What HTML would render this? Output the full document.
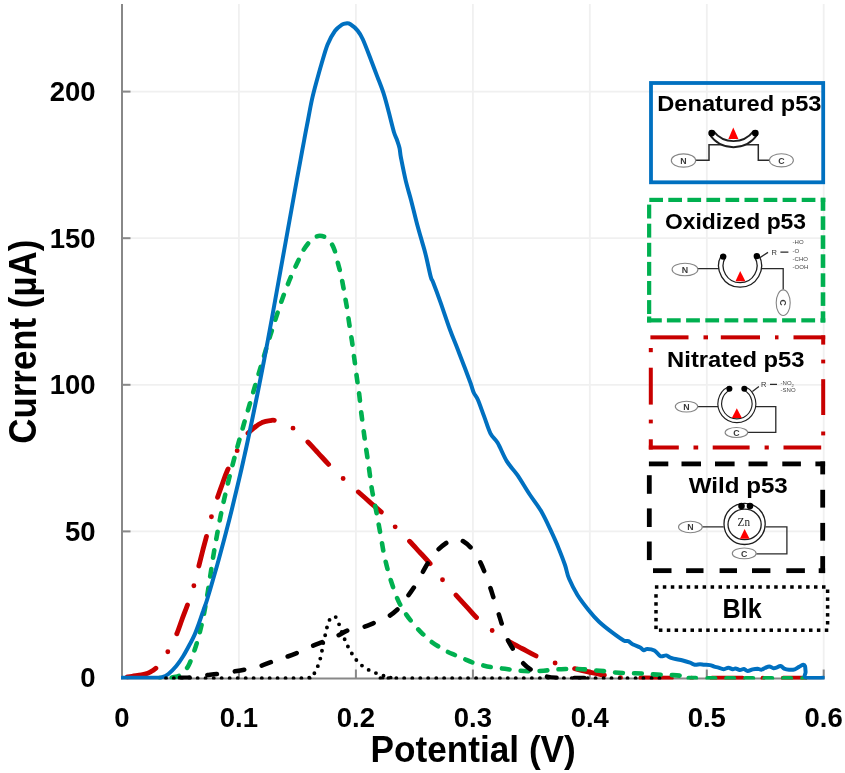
<!DOCTYPE html><html><head><meta charset="utf-8"><style>html,body{margin:0;padding:0;background:#fff;width:845px;height:773px;overflow:hidden}svg{position:absolute;left:0;top:0;display:block;will-change:transform;filter:blur(0.35px)}text{font-family:"Liberation Sans",sans-serif}</style></head><body>
<svg width="845" height="773" viewBox="0 0 845 773">
<line x1="238.9" y1="4" x2="238.9" y2="678" stroke="#f0f0f0" stroke-width="1.8"/>
<line x1="355.9" y1="4" x2="355.9" y2="678" stroke="#f0f0f0" stroke-width="1.8"/>
<line x1="472.9" y1="4" x2="472.9" y2="678" stroke="#f0f0f0" stroke-width="1.8"/>
<line x1="589.8" y1="4" x2="589.8" y2="678" stroke="#f0f0f0" stroke-width="1.8"/>
<line x1="706.8" y1="4" x2="706.8" y2="678" stroke="#f0f0f0" stroke-width="1.8"/>
<line x1="823.7" y1="4" x2="823.7" y2="678" stroke="#f0f0f0" stroke-width="1.8"/>
<line x1="122" y1="531.4" x2="824" y2="531.4" stroke="#f0f0f0" stroke-width="1.8"/>
<line x1="122" y1="384.8" x2="824" y2="384.8" stroke="#f0f0f0" stroke-width="1.8"/>
<line x1="122" y1="238.2" x2="824" y2="238.2" stroke="#f0f0f0" stroke-width="1.8"/>
<line x1="122" y1="91.6" x2="824" y2="91.6" stroke="#f0f0f0" stroke-width="1.8"/>
<line x1="122" y1="4" x2="122" y2="679.3" stroke="#888888" stroke-width="2"/>
<line x1="121" y1="678.5" x2="824.5" y2="678.5" stroke="#888888" stroke-width="2"/>
<line x1="122" y1="678.0" x2="130.5" y2="678.0" stroke="#888888" stroke-width="2"/>
<line x1="122" y1="531.4" x2="130.5" y2="531.4" stroke="#888888" stroke-width="2"/>
<line x1="122" y1="384.8" x2="130.5" y2="384.8" stroke="#888888" stroke-width="2"/>
<line x1="122" y1="238.2" x2="130.5" y2="238.2" stroke="#888888" stroke-width="2"/>
<line x1="122" y1="91.6" x2="130.5" y2="91.6" stroke="#888888" stroke-width="2"/>
<line x1="238.9" y1="669.5" x2="238.9" y2="678.5" stroke="#888888" stroke-width="2"/>
<line x1="355.9" y1="669.5" x2="355.9" y2="678.5" stroke="#888888" stroke-width="2"/>
<line x1="472.9" y1="669.5" x2="472.9" y2="678.5" stroke="#888888" stroke-width="2"/>
<line x1="589.8" y1="669.5" x2="589.8" y2="678.5" stroke="#888888" stroke-width="2"/>
<line x1="706.8" y1="669.5" x2="706.8" y2="678.5" stroke="#888888" stroke-width="2"/>
<line x1="823.7" y1="669.5" x2="823.7" y2="678.5" stroke="#888888" stroke-width="2"/>
<defs><clipPath id="pc"><rect x="121" y="0" width="703.6" height="679.5"/></clipPath></defs><g clip-path="url(#pc)">
<path id="s-red" d="M122.0,677.8 C123.7,677.5 128.8,676.8 132.0,676.3 C135.2,675.8 138.8,675.4 141.4,674.9 C144.0,674.4 145.9,673.9 147.8,673.2 C149.7,672.5 151.3,671.5 152.8,670.5 C154.3,669.5 155.2,669.0 156.7,667.3 C158.2,665.6 160.2,663.0 162.0,660.5 C163.8,658.0 165.8,655.0 167.5,652.2 C169.2,649.5 170.5,646.9 172.0,644.0 C173.5,641.1 174.6,639.2 176.3,635.1 C178.0,631.0 180.1,624.7 182.0,619.5 C183.9,614.3 186.0,609.2 187.9,603.7 C189.8,598.2 191.9,592.3 193.7,586.3 C195.4,580.3 196.9,573.5 198.4,567.7 C199.9,561.9 201.2,556.7 202.5,551.5 C203.8,546.3 205.1,541.9 206.5,536.3 C207.9,530.7 209.4,523.9 211.2,517.7 C212.9,511.5 215.2,504.7 217.0,499.1 C218.8,493.5 220.5,488.9 222.3,484.0 C224.1,479.1 225.2,475.4 227.6,470.0 C230.0,464.6 233.6,457.2 236.7,451.5 C239.8,445.8 243.2,439.5 246.2,435.5 C249.2,431.5 251.9,429.6 254.5,427.5 C257.1,425.4 259.4,423.8 262.0,422.6 C264.6,421.5 267.6,420.9 270.0,420.6 C272.4,420.3 272.4,419.6 276.2,420.8 C280.0,422.0 287.8,424.7 292.8,428.0 C297.8,431.3 302.1,436.3 306.3,440.4 C310.5,444.5 314.1,448.6 318.0,452.8 C321.9,457.0 325.9,461.6 330.0,465.8 C334.1,470.1 338.5,474.2 342.9,478.3 C347.3,482.4 352.2,486.5 356.6,490.4 C361.0,494.3 365.2,498.0 369.5,501.8 C373.8,505.6 378.2,509.0 382.4,513.1 C386.6,517.2 390.6,522.1 394.9,526.6 C399.2,531.1 404.1,535.7 408.3,540.0 C412.5,544.3 416.2,548.4 420.0,552.5 C423.8,556.6 427.4,560.4 431.1,564.9 C434.9,569.4 438.5,575.0 442.5,579.8 C446.5,584.6 450.9,589.5 454.9,593.9 C458.9,598.3 462.5,602.2 466.3,606.3 C470.1,610.4 473.4,614.7 477.7,618.7 C482.0,622.7 487.0,626.6 491.9,630.3 C496.8,633.9 502.3,637.6 507.3,640.6 C512.3,643.6 517.0,645.9 522.0,648.5 C527.0,651.1 531.7,654.0 537.2,656.4 C542.7,658.8 549.1,661.1 554.9,663.0 C560.7,664.9 566.3,666.5 572.0,668.0 C577.7,669.5 583.4,670.8 589.0,672.0 C594.6,673.2 599.9,674.4 605.9,675.4 C611.9,676.4 591.8,677.3 625.0,677.8 C658.2,678.3 775.0,678.1 805.0,678.2" fill="none" stroke="#C80000" stroke-width="4.9" stroke-linecap="round" stroke-linejoin="round" stroke-dasharray="30.5 20.3 0 20.31" stroke-dashoffset="65.77"/>
<path id="s-green" d="M160.0,677.8 C160.8,677.8 163.2,677.8 165.0,677.8 C166.8,677.8 168.8,677.8 170.6,677.6 C172.4,677.4 174.4,677.2 176.0,676.8 C177.6,676.4 179.0,676.0 180.4,675.0 C181.8,674.0 183.1,672.7 184.5,671.0 C185.9,669.3 187.1,668.5 188.8,665.0 C190.5,661.5 192.9,655.0 194.6,650.0 C196.3,645.0 197.8,640.0 199.1,635.0 C200.4,630.0 201.6,625.0 202.7,620.0 C203.8,615.0 204.7,610.0 205.6,605.0 C206.5,600.0 207.3,595.0 208.1,590.0 C208.9,585.0 209.6,580.0 210.4,575.0 C211.2,570.0 211.9,565.0 212.7,560.0 C213.5,555.0 214.3,550.0 215.2,545.0 C216.1,540.0 217.0,535.0 217.9,530.0 C218.8,525.0 219.8,520.0 220.8,515.0 C221.8,510.0 222.9,505.0 224.0,500.0 C225.1,495.0 226.3,490.0 227.5,485.0 C228.7,480.0 229.9,475.0 231.2,470.0 C232.5,465.0 233.8,460.0 235.2,455.0 C236.5,450.0 237.9,445.0 239.3,440.0 C240.7,435.0 242.2,430.0 243.6,425.0 C245.0,420.0 246.5,415.0 248.0,410.0 C249.5,405.0 250.9,400.0 252.4,395.0 C253.9,390.0 255.3,385.0 256.8,380.0 C258.3,375.0 259.8,370.0 261.3,365.0 C262.8,360.0 264.3,355.0 265.8,350.0 C267.3,345.0 268.8,340.0 270.4,335.0 C272.0,330.0 273.6,325.0 275.2,320.0 C276.8,315.0 278.5,310.0 280.2,305.0 C281.9,300.0 283.7,295.0 285.6,290.0 C287.5,285.0 289.5,280.0 291.7,275.0 C293.9,270.0 296.6,264.2 298.6,260.0 C300.6,255.8 301.7,253.0 303.5,250.0 C305.3,247.0 307.7,243.9 309.5,241.8 C311.3,239.7 312.8,238.5 314.5,237.5 C316.2,236.5 317.9,235.8 319.8,235.8 C321.7,235.8 323.8,236.3 325.6,237.4 C327.4,238.5 329.3,240.5 330.8,242.6 C332.3,244.7 333.4,247.0 334.5,250.0 C335.6,253.0 336.4,257.4 337.3,260.8 C338.2,264.2 339.1,267.5 339.9,270.5 C340.6,273.5 341.2,275.8 341.8,278.9 C342.4,282.0 343.1,285.9 343.7,289.2 C344.3,292.5 344.8,295.4 345.3,298.5 C345.9,301.6 346.4,304.3 347.0,308.0 C347.6,311.7 348.0,315.1 348.8,320.7 C349.6,326.3 351.0,334.7 352.0,341.4 C353.0,348.1 353.7,354.3 354.6,360.8 C355.5,367.3 356.4,374.5 357.2,380.2 C358.0,385.9 358.6,389.3 359.3,395.0 C360.0,400.7 360.6,407.7 361.5,414.6 C362.4,421.5 363.5,429.9 364.4,436.6 C365.3,443.3 366.1,448.7 367.0,454.7 C367.9,460.7 368.8,466.9 369.6,472.8 C370.4,478.7 370.9,483.6 372.0,490.0 C373.1,496.4 374.8,503.7 376.2,511.0 C377.6,518.3 379.0,526.2 380.4,533.8 C381.8,541.4 382.8,549.0 384.5,556.6 C386.2,564.2 388.2,572.1 390.5,579.4 C392.8,586.6 395.4,594.2 398.0,600.1 C400.6,606.0 403.2,610.0 406.3,614.6 C409.4,619.2 413.6,624.0 416.6,627.5 C419.6,631.0 421.8,633.0 424.1,635.3 C426.4,637.5 427.9,639.1 430.4,641.0 C432.9,642.9 436.3,645.1 439.0,646.8 C441.7,648.5 443.6,649.8 446.4,651.2 C449.2,652.7 453.1,654.2 456.0,655.5 C458.9,656.8 461.2,657.7 464.0,658.9 C466.8,660.1 470.1,661.6 473.0,662.6 C475.9,663.6 478.5,664.2 481.6,665.0 C484.7,665.8 488.6,666.7 491.7,667.2 C494.8,667.7 497.0,667.8 500.2,668.2 C503.4,668.6 507.6,669.2 510.6,669.6 C513.6,670.0 514.9,670.3 518.1,670.6 C521.3,670.9 526.4,671.1 529.7,671.2 C533.0,671.3 534.7,671.3 538.0,671.1 C541.3,670.9 546.4,670.5 549.6,670.2 C552.8,669.9 554.0,669.6 557.0,669.4 C560.0,669.2 564.6,669.1 567.8,669.0 C571.0,668.9 573.1,668.9 576.1,669.0 C579.1,669.1 583.0,669.2 586.0,669.4 C589.0,669.6 591.0,670.0 594.3,670.3 C597.6,670.6 602.8,671.0 605.9,671.3 C609.0,671.6 609.9,672.0 613.0,672.3 C616.1,672.6 621.4,672.9 624.6,673.0 C627.8,673.1 629.1,673.1 632.3,673.2 C635.5,673.3 640.7,673.4 643.8,673.6 C646.9,673.8 647.7,674.0 650.8,674.2 C653.9,674.4 659.1,674.7 662.3,674.8 C665.5,674.9 666.8,674.8 670.0,675.0 C673.2,675.2 678.4,675.4 681.5,675.8 C684.6,676.2 685.4,677.0 688.5,677.4 C691.6,677.8 680.6,678.1 700.0,678.2 C719.4,678.3 787.5,678.2 805.0,678.2" fill="none" stroke="#00B050" stroke-width="4.6" stroke-linecap="round" stroke-linejoin="round" stroke-dasharray="7.4 11.54" stroke-dashoffset="7.2"/>
<path id="s-blue" d="M122.0,677.8 C127.7,677.8 149.3,677.9 156.0,677.8 C162.7,677.7 159.9,677.8 162.0,677.2 C164.1,676.6 166.0,675.9 168.4,674.0 C170.8,672.1 173.8,669.0 176.3,666.0 C178.8,663.0 181.2,659.4 183.3,656.0 C185.4,652.6 187.2,649.2 189.0,645.8 C190.8,642.4 192.7,639.1 194.3,635.4 C196.0,631.7 197.4,627.6 198.9,623.5 C200.4,619.4 201.8,614.9 203.2,611.0 C204.5,607.1 205.4,605.2 207.0,600.0 C208.6,594.8 211.0,586.7 212.9,580.0 C214.8,573.3 216.8,566.7 218.6,560.0 C220.4,553.3 222.2,546.7 224.0,540.0 C225.8,533.3 227.5,526.7 229.2,520.0 C230.9,513.3 232.5,506.7 234.1,500.0 C235.7,493.3 237.3,486.7 238.9,480.0 C240.5,473.3 242.0,466.7 243.5,460.0 C245.0,453.3 246.5,446.7 247.9,440.0 C249.3,433.3 250.7,426.7 252.1,420.0 C253.5,413.3 254.8,406.7 256.2,400.0 C257.6,393.3 258.9,386.7 260.2,380.0 C261.5,373.3 262.8,366.7 264.1,360.0 C265.4,353.3 266.6,346.7 267.9,340.0 C269.1,333.3 270.4,326.7 271.6,320.0 C272.8,313.3 274.0,306.7 275.2,300.0 C276.4,293.3 277.6,286.7 278.8,280.0 C280.0,273.3 281.2,266.7 282.4,260.0 C283.6,253.3 284.8,246.7 286.0,240.0 C287.2,233.3 288.4,226.7 289.6,220.0 C290.8,213.3 292.0,206.7 293.2,200.0 C294.4,193.3 295.6,186.7 296.8,180.0 C298.0,173.3 299.3,166.7 300.5,160.0 C301.7,153.3 302.9,146.7 304.2,140.0 C305.4,133.3 306.7,126.8 308.0,120.0 C309.3,113.2 310.6,105.6 312.0,99.4 C313.4,93.2 314.6,88.7 316.2,82.8 C317.8,76.9 319.5,70.6 321.4,64.2 C323.3,57.8 325.4,50.0 327.6,44.5 C329.9,39.0 332.5,34.3 334.9,31.0 C337.3,27.7 340.1,25.9 342.0,24.6 C343.9,23.3 344.8,23.5 346.2,23.4 C347.6,23.3 348.5,23.0 350.4,24.2 C352.3,25.4 355.5,28.1 357.6,30.6 C359.7,33.1 360.6,34.4 362.8,39.3 C365.0,44.2 368.6,53.8 371.0,60.0 C373.4,66.2 375.2,71.1 377.3,76.6 C379.4,82.1 381.6,87.3 383.5,93.2 C385.4,99.1 387.0,105.3 388.7,111.8 C390.4,118.3 392.5,127.3 393.9,132.0 C395.3,136.7 396.1,137.3 397.0,140.0 C397.9,142.7 398.8,145.0 399.5,148.0 C400.2,151.0 399.9,152.4 401.0,158.0 C402.1,163.6 404.2,174.4 405.9,181.4 C407.6,188.4 409.3,193.4 411.0,200.0 C412.7,206.6 414.5,214.1 416.2,220.7 C417.9,227.3 419.8,233.9 421.4,239.4 C422.9,244.9 423.9,247.7 425.5,253.9 C427.1,260.1 429.4,271.9 430.7,276.6 C431.9,281.3 431.3,277.6 433.0,282.0 C434.7,286.4 437.9,294.9 440.7,302.8 C443.5,310.8 447.2,322.1 450.0,329.7 C452.8,337.3 454.9,342.1 457.3,348.3 C459.7,354.5 462.3,361.1 464.5,367.0 C466.7,372.9 469.1,379.2 470.7,383.5 C472.2,387.8 472.6,390.1 473.8,392.8 C475.0,395.6 476.3,396.0 478.0,400.0 C479.7,404.0 482.1,411.1 484.2,416.6 C486.3,422.2 488.2,428.9 490.4,433.3 C492.6,437.7 494.9,438.1 497.6,442.8 C500.4,447.5 503.6,456.0 506.9,461.4 C510.2,466.8 513.5,469.4 517.3,474.9 C521.1,480.4 525.7,488.5 529.7,494.5 C533.7,500.5 537.7,505.2 541.1,511.1 C544.5,517.0 547.5,523.5 550.4,529.7 C553.3,535.9 556.3,542.5 558.7,548.4 C561.1,554.3 563.3,560.0 565.0,565.0 C566.7,570.0 566.9,573.6 569.0,578.6 C571.1,583.6 574.4,590.0 577.6,595.2 C580.9,600.4 585.0,605.6 588.5,610.0 C592.0,614.4 594.9,617.8 598.8,621.5 C602.7,625.2 607.6,629.0 611.8,632.1 C615.9,635.2 620.9,638.9 623.7,640.4 C626.5,641.9 626.8,640.5 628.4,641.2 C630.0,641.9 631.1,643.5 633.1,644.5 C635.1,645.5 638.4,646.5 640.2,647.5 C642.0,648.5 642.6,650.0 643.8,650.2 C645.0,650.4 645.5,648.9 647.3,648.9 C649.1,648.9 652.2,649.2 654.4,650.4 C656.6,651.6 658.4,655.4 660.4,656.2 C662.4,657.0 664.5,655.1 666.3,655.4 C668.1,655.7 668.2,657.0 671.0,657.9 C673.8,658.8 679.6,659.7 682.8,660.5 C686.0,661.3 688.0,662.0 690.0,662.7 C692.0,663.4 693.0,664.5 694.7,664.8 C696.4,665.1 698.4,664.3 700.0,664.3 C701.6,664.3 702.6,664.7 704.3,664.8 C706.0,664.9 708.4,664.8 710.0,665.1 C711.6,665.4 712.8,666.2 714.2,666.6 C715.6,667.0 717.0,667.2 718.5,667.6 C720.0,668.0 721.8,669.2 723.4,669.2 C725.0,669.2 726.8,667.8 728.4,667.8 C730.0,667.8 731.5,669.2 732.7,669.3 C733.9,669.4 734.3,668.3 735.5,668.4 C736.7,668.5 738.4,669.9 739.8,670.0 C741.2,670.1 742.7,668.8 744.0,669.0 C745.3,669.2 746.2,670.9 747.6,671.0 C749.0,671.1 751.0,669.8 752.6,669.4 C754.2,669.0 756.0,668.7 757.5,668.7 C759.0,668.8 760.1,669.8 761.4,669.7 C762.6,669.6 763.7,668.5 765.0,668.0 C766.3,667.5 767.8,666.4 769.2,666.4 C770.6,666.4 772.3,668.0 773.5,668.2 C774.7,668.4 775.1,668.0 776.3,667.6 C777.5,667.2 779.3,665.7 780.6,665.9 C781.9,666.1 782.7,668.0 784.1,668.6 C785.5,669.2 787.3,669.6 789.1,669.7 C790.9,669.8 793.1,669.8 794.8,669.3 C796.4,668.8 797.6,667.6 799.0,666.9 C800.4,666.1 802.2,664.9 803.2,664.8 C804.2,664.7 804.6,665.0 805.0,666.2 C805.4,667.4 805.4,670.1 805.6,672.0 C805.8,673.9 803.0,676.6 806.0,677.6 C809.0,678.6 820.8,677.8 823.8,677.8" fill="none" stroke="#0070C0" stroke-width="4" stroke-linecap="round" stroke-linejoin="round"/>
<path id="s-black" d="M168.0,678.0 C170.8,678.0 181.0,677.9 185.0,677.8 C189.0,677.7 188.7,677.6 192.0,677.2 C195.3,676.8 200.8,675.8 205.0,675.3 C209.2,674.8 212.8,674.5 217.4,673.9 C222.0,673.3 227.7,672.4 232.3,671.7 C236.9,671.0 240.7,670.5 245.1,669.6 C249.5,668.7 254.3,667.9 259.0,666.5 C263.7,665.1 268.7,662.9 273.1,661.4 C277.5,659.9 281.0,658.9 285.2,657.4 C289.4,655.9 293.9,654.2 298.3,652.4 C302.7,650.5 307.0,648.1 311.4,646.3 C315.8,644.4 320.2,643.0 324.4,641.3 C328.6,639.6 332.5,638.1 336.5,636.3 C340.5,634.4 344.2,631.7 348.6,630.2 C353.0,628.7 358.2,628.5 362.7,627.2 C367.2,625.9 371.4,624.0 375.8,622.2 C380.2,620.4 384.8,618.7 388.8,616.2 C392.8,613.7 396.5,610.7 399.9,607.1 C403.3,603.5 406.5,598.0 409.0,594.5 C411.5,591.0 412.8,589.3 415.0,585.8 C417.2,582.3 419.8,577.4 422.0,573.5 C424.2,569.6 425.8,566.1 428.4,562.3 C431.0,558.4 434.3,553.8 437.5,550.4 C440.7,547.0 444.7,543.9 447.5,542.2 C450.3,540.5 452.2,540.3 454.5,540.0 C456.8,539.7 458.5,538.9 461.4,540.3 C464.3,541.7 468.7,545.1 471.7,548.5 C474.7,551.9 477.3,556.8 479.5,560.8 C481.7,564.8 483.0,568.1 484.7,572.4 C486.4,576.7 488.4,582.3 489.9,586.6 C491.4,590.9 492.3,593.9 493.7,598.3 C495.1,602.7 496.9,608.2 498.3,612.8 C499.8,617.4 500.9,621.3 502.4,625.7 C503.9,630.1 505.4,634.9 507.3,639.0 C509.2,643.1 511.5,646.7 514.0,650.6 C516.5,654.5 519.2,658.9 522.2,662.2 C525.2,665.5 528.3,668.1 532.2,670.5 C536.1,672.9 541.1,675.0 545.4,676.3 C549.7,677.5 553.8,677.7 557.9,678.0 C562.0,678.3 564.6,678.1 570.3,678.1 C576.0,678.1 588.4,678.1 592.0,678.1" fill="none" stroke="#000" stroke-width="4.6" stroke-linecap="round" stroke-linejoin="round" stroke-dasharray="9.6 18.01" stroke-dashoffset="15.65"/>
<path id="s-dot" d="M166.0,678.2 C188.5,678.2 277.2,678.4 301.0,678.2 C324.8,678.1 306.4,678.2 308.7,677.3 C311.0,676.4 313.1,674.9 314.6,673.0 C316.2,671.1 317.0,668.2 318.0,665.7 C319.0,663.2 319.7,660.8 320.4,658.2 C321.1,655.6 321.6,652.7 322.1,650.1 C322.6,647.5 322.9,644.9 323.4,642.4 C323.9,639.9 324.6,637.6 325.2,635.1 C325.8,632.6 326.3,629.8 327.0,627.3 C327.7,624.8 328.3,621.6 329.6,619.8 C330.9,618.0 333.3,615.7 334.8,616.3 C336.3,616.9 337.5,620.9 338.6,623.3 C339.7,625.7 340.4,628.2 341.3,630.7 C342.2,633.2 343.2,635.8 344.2,638.2 C345.2,640.6 346.1,642.9 347.3,645.3 C348.5,647.7 349.9,650.2 351.2,652.4 C352.5,654.6 353.8,656.7 355.3,658.7 C356.9,660.7 358.5,662.7 360.5,664.4 C362.5,666.1 364.9,667.8 367.2,669.1 C369.5,670.5 371.9,671.4 374.5,672.5 C377.1,673.6 380.1,674.7 382.8,675.5 C385.5,676.3 387.9,677.0 390.8,677.5 C393.7,678.0 354.0,678.1 400.0,678.2 C446.0,678.3 622.5,678.2 667.0,678.2" fill="none" stroke="#000" stroke-width="3.9" stroke-linecap="round" stroke-linejoin="round" stroke-dasharray="0 7.96" stroke-dashoffset="7.93"/>
</g>
<text x="95.6" y="687.3" text-anchor="end" font-weight="bold" font-size="27.5" fill="#000">0</text>
<text x="95.6" y="540.7" text-anchor="end" font-weight="bold" font-size="27.5" fill="#000">50</text>
<text x="95.6" y="394.1" text-anchor="end" font-weight="bold" font-size="27.5" fill="#000">100</text>
<text x="95.6" y="247.5" text-anchor="end" font-weight="bold" font-size="27.5" fill="#000">150</text>
<text x="95.6" y="100.9" text-anchor="end" font-weight="bold" font-size="27.5" fill="#000">200</text>
<text x="122.0" y="726.6" text-anchor="middle" font-weight="bold" font-size="27.5" fill="#000">0</text>
<text x="238.9" y="726.6" text-anchor="middle" font-weight="bold" font-size="27.5" fill="#000">0.1</text>
<text x="355.9" y="726.6" text-anchor="middle" font-weight="bold" font-size="27.5" fill="#000">0.2</text>
<text x="472.9" y="726.6" text-anchor="middle" font-weight="bold" font-size="27.5" fill="#000">0.3</text>
<text x="589.8" y="726.6" text-anchor="middle" font-weight="bold" font-size="27.5" fill="#000">0.4</text>
<text x="706.8" y="726.6" text-anchor="middle" font-weight="bold" font-size="27.5" fill="#000">0.5</text>
<text x="823.7" y="726.6" text-anchor="middle" font-weight="bold" font-size="27.5" fill="#000">0.6</text>
<text x="473.2" y="761.8" text-anchor="middle" font-weight="bold" font-size="36" textLength="205.2" lengthAdjust="spacingAndGlyphs">Potential (V)</text>
<text transform="translate(36.0,341.7) rotate(-90)" x="0" y="0" text-anchor="middle" font-weight="bold" font-size="38.5" textLength="204" lengthAdjust="spacingAndGlyphs">Current (µA)</text>
<rect x="651" y="83" width="172.2" height="99.3" fill="none" stroke="#0070C0" stroke-width="3.8"/>
<text x="657.3" y="110.5" font-weight="bold" font-size="22" textLength="164.2" lengthAdjust="spacingAndGlyphs">Denatured p53</text>
<path d="M695.6,160.3 H709 V144.8 H758.3 V160.3 H769.4" fill="none" stroke="#2a2a2a" stroke-width="1.5"/>
<path d="M709.8,134.8 A28.85,28.85 0 0 0 757.2,134.8 L753.4,131.4 A25.26,25.26 0 0 1 713.6,131.4 Z" fill="#fff" stroke="#1e1e1e" stroke-width="1.9" stroke-linejoin="round"/>
<circle cx="711.7" cy="133.1" r="3.4" fill="#000"/>
<circle cx="755.3" cy="133.1" r="3.4" fill="#000"/>
<polygon points="733.3,127.4 728.3,138.9 738.4,138.9" fill="#ff0000"/>
<ellipse cx="683.5" cy="160.5" rx="12.2" ry="6.6" fill="#fff" stroke="#858585" stroke-width="1.1"/><text x="683.5" y="163.7" text-anchor="middle" font-size="8.8" font-weight="bold" fill="#3a3a3a">N</text>
<ellipse cx="781.4" cy="160.3" rx="12" ry="6.6" fill="#fff" stroke="#858585" stroke-width="1.1"/><text x="781.4" y="163.5" text-anchor="middle" font-size="8.8" font-weight="bold" fill="#3a3a3a">C</text>
<rect x="649.3" y="197.80" width="13.7" height="4.2" fill="#00B050"/>
<rect x="668.3" y="197.80" width="13.7" height="4.2" fill="#00B050"/>
<rect x="687.4" y="197.80" width="13.7" height="4.2" fill="#00B050"/>
<rect x="706.4" y="197.80" width="13.7" height="4.2" fill="#00B050"/>
<rect x="725.5" y="197.80" width="13.7" height="4.2" fill="#00B050"/>
<rect x="744.5" y="197.80" width="13.7" height="4.2" fill="#00B050"/>
<rect x="763.6" y="197.80" width="13.7" height="4.2" fill="#00B050"/>
<rect x="782.6" y="197.80" width="13.7" height="4.2" fill="#00B050"/>
<rect x="801.7" y="197.80" width="13.7" height="4.2" fill="#00B050"/>
<rect x="820.8" y="197.80" width="4.5" height="4.2" fill="#00B050"/>
<rect x="820.70" y="197.8" width="4.6" height="13.0" fill="#00B050"/>
<rect x="820.70" y="216.3" width="4.6" height="13.6" fill="#00B050"/>
<rect x="820.70" y="235.3" width="4.6" height="13.6" fill="#00B050"/>
<rect x="820.70" y="254.3" width="4.6" height="13.6" fill="#00B050"/>
<rect x="820.70" y="273.3" width="4.6" height="13.6" fill="#00B050"/>
<rect x="820.70" y="292.3" width="4.6" height="13.6" fill="#00B050"/>
<rect x="820.70" y="311.3" width="4.6" height="11.2" fill="#00B050"/>
<rect x="647.0" y="318.25" width="14.8" height="4.2" fill="#00B050"/>
<rect x="666.9" y="318.25" width="13.8" height="4.2" fill="#00B050"/>
<rect x="686.1" y="318.25" width="13.8" height="4.2" fill="#00B050"/>
<rect x="705.3" y="318.25" width="13.8" height="4.2" fill="#00B050"/>
<rect x="724.5" y="318.25" width="13.8" height="4.2" fill="#00B050"/>
<rect x="743.7" y="318.25" width="13.8" height="4.2" fill="#00B050"/>
<rect x="762.9" y="318.25" width="13.8" height="4.2" fill="#00B050"/>
<rect x="782.1" y="318.25" width="13.8" height="4.2" fill="#00B050"/>
<rect x="801.3" y="318.25" width="13.8" height="4.2" fill="#00B050"/>
<rect x="820.5" y="318.25" width="4.8" height="4.2" fill="#00B050"/>
<rect x="647.05" y="204.6" width="4.2" height="13.9" fill="#00B050"/>
<rect x="647.05" y="223.7" width="4.2" height="13.9" fill="#00B050"/>
<rect x="647.05" y="242.8" width="4.2" height="13.9" fill="#00B050"/>
<rect x="647.05" y="261.9" width="4.2" height="13.9" fill="#00B050"/>
<rect x="647.05" y="281.0" width="4.2" height="13.9" fill="#00B050"/>
<rect x="647.05" y="300.1" width="4.2" height="13.9" fill="#00B050"/>
<rect x="647.05" y="316.5" width="4.2" height="5.9" fill="#00B050"/>
<text x="664.9" y="229.2" font-weight="bold" font-size="22" textLength="141.2" lengthAdjust="spacingAndGlyphs">Oxidized p53</text>
<path d="M697.8,268.6 H720 M761,268.6 H783.2 V289.5 M759.1,258.1 L768,252.4 M780.4,252.2 H788.4" fill="none" stroke="#2a2a2a" stroke-width="1.3"/>
<path d="M723.2,256.6 A19.2,19.2 0 1 0 756.8,256.3" fill="none" stroke="#1e1e1e" stroke-width="5.8" stroke-linecap="butt"/><path d="M723.2,256.6 A19.2,19.2 0 1 0 756.8,256.3" fill="none" stroke="#fff" stroke-width="3.2" stroke-linecap="butt"/>
<circle cx="723.2" cy="256.6" r="3.2" fill="#000"/>
<circle cx="756.8" cy="256.1" r="3.2" fill="#000"/>
<polygon points="740.2,271.1 735.5,281.3 745.4,281.3" fill="#ff0000"/>
<ellipse cx="685" cy="269.5" rx="12.9" ry="6.2" fill="#fff" stroke="#858585" stroke-width="1.1"/><text x="685" y="272.7" text-anchor="middle" font-size="8.8" font-weight="bold" fill="#3a3a3a">N</text>
<ellipse cx="783.2" cy="302.7" rx="7" ry="12.8" fill="#fff" stroke="#858585" stroke-width="1.1"/><text x="783.2" y="305.9" text-anchor="middle" font-size="8.8" font-weight="bold" fill="#3a3a3a" transform="rotate(90 783.2 302.7)">C</text>
<text x="774.2" y="254.6" text-anchor="middle" font-size="7.5" fill="#333">R</text>
<text x="792.6" y="244.2" font-size="6" fill="#444">-HO</text>
<text x="792.6" y="252.6" font-size="6" fill="#444">-O</text>
<text x="792.6" y="260.6" font-size="6" fill="#444">-CHO</text>
<text x="792.6" y="268.8" font-size="6" fill="#444">-OOH</text>
<rect x="650.4" y="335.35" width="38.1" height="4.0" fill="#C80000"/>
<rect x="703.5" y="335.35" width="4.5" height="4.0" fill="#C80000"/>
<rect x="720.8" y="335.35" width="39.2" height="4.0" fill="#C80000"/>
<rect x="775.0" y="335.35" width="3.5" height="4.0" fill="#C80000"/>
<rect x="793.5" y="335.35" width="31.7" height="4.0" fill="#C80000"/>
<rect x="821.20" y="335.4" width="4.0" height="9.2" fill="#C80000"/>
<rect x="821.20" y="359.6" width="4.0" height="3.8" fill="#C80000"/>
<rect x="821.20" y="379.2" width="4.0" height="35.8" fill="#C80000"/>
<rect x="821.20" y="431.5" width="4.0" height="3.9" fill="#C80000"/>
<rect x="648.8" y="445.50" width="30.0" height="4.0" fill="#C80000"/>
<rect x="693.5" y="445.50" width="4.7" height="4.0" fill="#C80000"/>
<rect x="712.7" y="445.50" width="36.9" height="4.0" fill="#C80000"/>
<rect x="764.6" y="445.50" width="4.2" height="4.0" fill="#C80000"/>
<rect x="783.5" y="445.50" width="37.7" height="4.0" fill="#C80000"/>
<rect x="648.80" y="348.0" width="4.0" height="4.2" fill="#C80000"/>
<rect x="648.80" y="367.7" width="4.0" height="36.9" fill="#C80000"/>
<rect x="648.80" y="419.6" width="4.0" height="3.8" fill="#C80000"/>
<rect x="648.80" y="439.3" width="4.0" height="10.2" fill="#C80000"/>
<text x="667.1" y="367.2" font-weight="bold" font-size="22" textLength="137.5" lengthAdjust="spacingAndGlyphs">Nitrated p53</text>
<path d="M697.7,406.6 H718 M755.5,406.6 H775.8 V432.3 H747.7 M752.4,391.5 L758.9,386.4 M770,384.4 H777" fill="none" stroke="#2a2a2a" stroke-width="1.3"/>
<path d="M729.2,388.4 A17.1,17.1 0 1 0 744.5,388.4" fill="none" stroke="#1e1e1e" stroke-width="4.9" stroke-linecap="butt"/><path d="M729.2,388.4 A17.1,17.1 0 1 0 744.5,388.4" fill="none" stroke="#fff" stroke-width="2.6" stroke-linecap="butt"/>
<circle cx="729.4" cy="388.7" r="3.0" fill="#000"/>
<circle cx="744.3" cy="388.7" r="3.0" fill="#000"/>
<polygon points="736.8,408.3 731.9,418 741.9,418" fill="#ff0000"/>
<ellipse cx="686.5" cy="406.6" rx="11.2" ry="5.4" fill="#fff" stroke="#858585" stroke-width="1.1"/><text x="686.5" y="409.8" text-anchor="middle" font-size="8.8" font-weight="bold" fill="#3a3a3a">N</text>
<ellipse cx="736.4" cy="432.5" rx="11.3" ry="5.0" fill="#fff" stroke="#858585" stroke-width="1.1"/><text x="736.4" y="435.7" text-anchor="middle" font-size="8.8" font-weight="bold" fill="#3a3a3a">C</text>
<text x="763.8" y="386.9" text-anchor="middle" font-size="7.5" fill="#333">R</text>
<text x="780.6" y="385.2" font-size="6" fill="#444">-NO<tspan font-size="4" dy="1.5">2</tspan></text>
<text x="780.6" y="391.6" font-size="6" fill="#444">-SNO</text>
<rect x="648.9" y="461.50" width="19.4" height="4.8" fill="#000"/>
<rect x="681.5" y="461.50" width="19.5" height="4.8" fill="#000"/>
<rect x="715.0" y="461.50" width="19.6" height="4.8" fill="#000"/>
<rect x="748.5" y="461.50" width="19.0" height="4.8" fill="#000"/>
<rect x="782.3" y="461.50" width="18.6" height="4.8" fill="#000"/>
<rect x="815.4" y="461.50" width="9.7" height="4.8" fill="#000"/>
<rect x="820.30" y="461.5" width="4.8" height="12.9" fill="#000"/>
<rect x="820.30" y="489.8" width="4.8" height="17.8" fill="#000"/>
<rect x="820.30" y="522.9" width="4.8" height="17.8" fill="#000"/>
<rect x="820.30" y="556.1" width="4.8" height="17.0" fill="#000"/>
<rect x="653.0" y="568.25" width="18.5" height="4.8" fill="#000"/>
<rect x="686.1" y="568.25" width="17.4" height="4.8" fill="#000"/>
<rect x="719.6" y="568.25" width="17.4" height="4.8" fill="#000"/>
<rect x="752.0" y="568.25" width="18.4" height="4.8" fill="#000"/>
<rect x="786.3" y="568.25" width="18.6" height="4.8" fill="#000"/>
<rect x="818.7" y="568.25" width="6.4" height="4.8" fill="#000"/>
<rect x="646.90" y="475.2" width="4.8" height="18.6" fill="#000"/>
<rect x="646.90" y="508.4" width="4.8" height="18.6" fill="#000"/>
<rect x="646.90" y="541.5" width="4.8" height="18.6" fill="#000"/>
<text x="688.7" y="493" font-weight="bold" font-size="22" textLength="99.1" lengthAdjust="spacingAndGlyphs">Wild p53</text>
<path d="M702.3,526.8 H723.6 M765.6,526.8 H786.9 V553.9 H756.2" fill="none" stroke="#2a2a2a" stroke-width="1.3"/>
<circle cx="744.6" cy="523.9" r="20.6" fill="#fff" stroke="#1e1e1e" stroke-width="1.3"/>
<ellipse cx="744.6" cy="524.4" rx="16.6" ry="15.2" fill="#fff" stroke="#1e1e1e" stroke-width="1.3"/>
<circle cx="741.5" cy="506.1" r="3.3" fill="#000"/>
<circle cx="750" cy="506.1" r="3.3" fill="#000"/>
<text x="737.6" y="525.6" font-size="11.8" fill="#222" textLength="12.4" lengthAdjust="spacingAndGlyphs" style="font-family:'Liberation Serif',serif">Zn</text>
<polygon points="744.6,529 739.9,538.7 749.6,538.7" fill="#ff0000"/>
<ellipse cx="690.4" cy="527" rx="11.9" ry="5.8" fill="#fff" stroke="#858585" stroke-width="1.1"/><text x="690.4" y="530.2" text-anchor="middle" font-size="8.8" font-weight="bold" fill="#3a3a3a">N</text>
<ellipse cx="744.2" cy="553.4" rx="11.9" ry="5.4" fill="#fff" stroke="#858585" stroke-width="1.1"/><text x="744.2" y="556.6" text-anchor="middle" font-size="8.8" font-weight="bold" fill="#3a3a3a">C</text>
<rect x="654.9" y="585.25" width="3.5" height="3.5" fill="#000"/>
<rect x="662.8" y="585.25" width="3.5" height="3.5" fill="#000"/>
<rect x="670.8" y="585.25" width="3.5" height="3.5" fill="#000"/>
<rect x="678.7" y="585.25" width="3.5" height="3.5" fill="#000"/>
<rect x="686.7" y="585.25" width="3.5" height="3.5" fill="#000"/>
<rect x="694.6" y="585.25" width="3.5" height="3.5" fill="#000"/>
<rect x="702.6" y="585.25" width="3.5" height="3.5" fill="#000"/>
<rect x="710.6" y="585.25" width="3.5" height="3.5" fill="#000"/>
<rect x="718.5" y="585.25" width="3.5" height="3.5" fill="#000"/>
<rect x="726.5" y="585.25" width="3.5" height="3.5" fill="#000"/>
<rect x="734.5" y="585.25" width="3.5" height="3.5" fill="#000"/>
<rect x="742.4" y="585.25" width="3.5" height="3.5" fill="#000"/>
<rect x="750.4" y="585.25" width="3.5" height="3.5" fill="#000"/>
<rect x="758.3" y="585.25" width="3.5" height="3.5" fill="#000"/>
<rect x="766.3" y="585.25" width="3.5" height="3.5" fill="#000"/>
<rect x="774.2" y="585.25" width="3.5" height="3.5" fill="#000"/>
<rect x="782.2" y="585.25" width="3.5" height="3.5" fill="#000"/>
<rect x="790.2" y="585.25" width="3.5" height="3.5" fill="#000"/>
<rect x="798.1" y="585.25" width="3.5" height="3.5" fill="#000"/>
<rect x="806.1" y="585.25" width="3.5" height="3.5" fill="#000"/>
<rect x="814.0" y="585.25" width="3.5" height="3.5" fill="#000"/>
<rect x="822.0" y="585.25" width="3.5" height="3.5" fill="#000"/>
<rect x="658.9" y="628.45" width="3.5" height="3.5" fill="#000"/>
<rect x="666.8" y="628.45" width="3.5" height="3.5" fill="#000"/>
<rect x="674.6" y="628.45" width="3.5" height="3.5" fill="#000"/>
<rect x="682.6" y="628.45" width="3.5" height="3.5" fill="#000"/>
<rect x="690.5" y="628.45" width="3.5" height="3.5" fill="#000"/>
<rect x="698.4" y="628.45" width="3.5" height="3.5" fill="#000"/>
<rect x="706.2" y="628.45" width="3.5" height="3.5" fill="#000"/>
<rect x="714.1" y="628.45" width="3.5" height="3.5" fill="#000"/>
<rect x="722.1" y="628.45" width="3.5" height="3.5" fill="#000"/>
<rect x="730.0" y="628.45" width="3.5" height="3.5" fill="#000"/>
<rect x="737.9" y="628.45" width="3.5" height="3.5" fill="#000"/>
<rect x="745.8" y="628.45" width="3.5" height="3.5" fill="#000"/>
<rect x="753.7" y="628.45" width="3.5" height="3.5" fill="#000"/>
<rect x="761.6" y="628.45" width="3.5" height="3.5" fill="#000"/>
<rect x="769.5" y="628.45" width="3.5" height="3.5" fill="#000"/>
<rect x="777.4" y="628.45" width="3.5" height="3.5" fill="#000"/>
<rect x="785.2" y="628.45" width="3.5" height="3.5" fill="#000"/>
<rect x="793.2" y="628.45" width="3.5" height="3.5" fill="#000"/>
<rect x="801.1" y="628.45" width="3.5" height="3.5" fill="#000"/>
<rect x="809.0" y="628.45" width="3.5" height="3.5" fill="#000"/>
<rect x="816.9" y="628.45" width="3.5" height="3.5" fill="#000"/>
<rect x="824.8" y="628.45" width="3.5" height="3.5" fill="#000"/>
<rect x="654.25" y="594.2" width="3.5" height="3.5" fill="#000"/>
<rect x="654.25" y="602.2" width="3.5" height="3.5" fill="#000"/>
<rect x="654.25" y="610.0" width="3.5" height="3.5" fill="#000"/>
<rect x="654.25" y="617.9" width="3.5" height="3.5" fill="#000"/>
<rect x="654.25" y="625.6" width="3.5" height="3.5" fill="#000"/>
<rect x="825.85" y="589.5" width="3.5" height="3.5" fill="#000"/>
<rect x="825.85" y="597.4" width="3.5" height="3.5" fill="#000"/>
<rect x="825.85" y="605.2" width="3.5" height="3.5" fill="#000"/>
<rect x="825.85" y="613.1" width="3.5" height="3.5" fill="#000"/>
<rect x="825.85" y="621.0" width="3.5" height="3.5" fill="#000"/>
<text x="722.6" y="617.8" font-weight="bold" font-size="26.8" textLength="39" lengthAdjust="spacingAndGlyphs">Blk</text>
</svg></body></html>
